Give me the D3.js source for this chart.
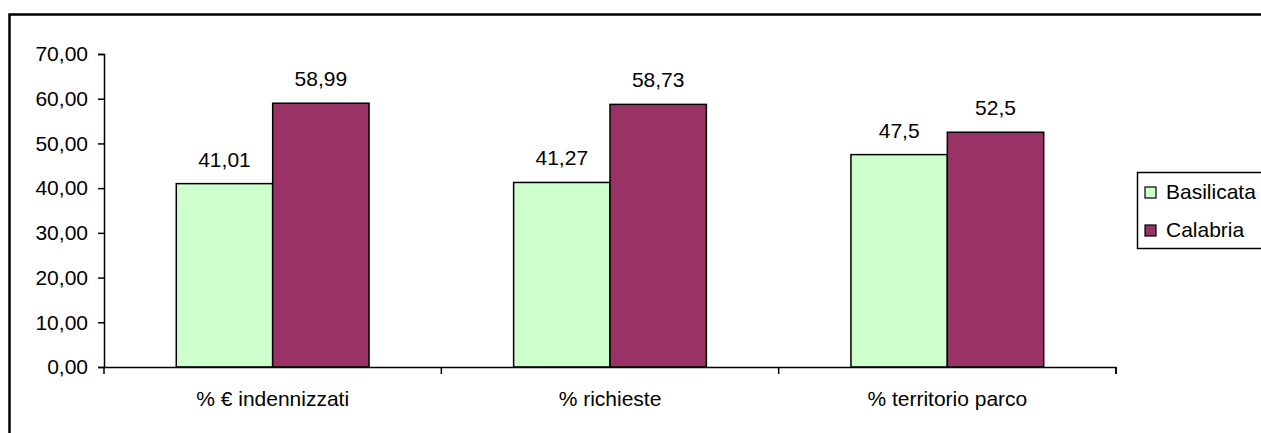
<!DOCTYPE html>
<html>
<head>
<meta charset="utf-8">
<script src="https://cdn.jsdelivr.net/npm/d3@7"></script>
<style>
  body { margin: 0; background: #fff; }
  text { font-family: "Liberation Sans", Arial, sans-serif; fill: #000; }
</style>
</head>
<body>
<div id="painting"></div>
<script>
// chart data
var categories = ["% € indennizzati", "% richieste", "% territorio parco"];
var series_names = ["Basilicata", "Calabria"];
var basilicata = [41.01, 41.27, 47.5];
var calabria = [58.99, 58.73, 52.5];
var value_labels = [["41,01", "41,27", "47,5"], ["58,99", "58,73", "52,5"]];
var y_ticks = [0, 10, 20, 30, 40, 50, 60, 70];
var colours = ["#CCFFCC", "#993366"];

var W = 1261, H = 433;
var fs = "21px";
var margin = {top: 54, left: 104};
var w = 1116 - margin.left;
var h = 367 - margin.top;

var svg = d3.select("#painting")
  .append("svg")
  .attr("width", W)
  .attr("height", H);

// outer frame (runs past the right and bottom edges)
svg.append("path")
  .attr("d", "M9.5," + (H + 5) + " L9.5,14.5 L" + (W + 5) + ",14.5")
  .attr("fill", "none")
  .attr("stroke", "#000")
  .attr("stroke-width", 2.5);

var g = svg.append("g")
  .attr("transform", "translate(" + margin.left + "," + margin.top + ")");

var x0 = d3.scaleBand()
  .domain(categories)
  .range([0, w]);

var x1 = d3.scaleBand()
  .domain(series_names)
  .range([0, x0.bandwidth()])
  .paddingOuter(0.75);

var yScale = d3.scaleLinear()
  .domain([0, 70])
  .range([h, 0]);

var fmt = function(d) { return d3.format(".2f")(d).replace(".", ","); };

var yAxis = d3.axisLeft(yScale)
  .tickValues(y_ticks)
  .tickFormat(fmt)
  .tickSize(6)
  .tickPadding(10);

var ya = g.append("g")
  .attr("class", "axis")
  .call(yAxis);
ya.select(".domain").attr("d", "M-6,0.5H0.5V" + (h + 0.5) + "H-6").attr("stroke-width", 1.5);
ya.selectAll("line").attr("stroke-width", 1.5);
ya.selectAll("text").style("font-size", fs).attr("font-family", null);

// bars
var rows = [basilicata, calabria];
series_names.forEach(function(s, si) {
  var bars = g.append("g");
  bars.selectAll("rect")
    .data(rows[si])
    .enter()
    .append("rect")
    .attr("x", function(d, i) { return x0(categories[i]) + x1(s); })
    .attr("y", function(d) { return yScale(d); })
    .attr("width", x1.bandwidth())
    .attr("height", function(d) { return h - yScale(d); })
    .attr("fill", colours[si])
    .attr("stroke", "#000")
    .attr("stroke-width", 1.5);

  bars.selectAll("text")
    .data(rows[si])
    .enter()
    .append("text")
    .attr("x", function(d, i) { return x0(categories[i]) + x1(s) + x1.bandwidth() / 2; })
    .attr("y", function(d) { return yScale(d) - 17; })
    .attr("text-anchor", "middle")
    .style("font-size", fs)
    .text(function(d, i) { return value_labels[si][i]; });
});

// x axis
var xAxis = d3.axisBottom(x0)
  .tickSize(0)
  .tickPadding(24);
var xa = g.append("g")
  .attr("transform", "translate(0," + h + ")")
  .call(xAxis);
xa.select(".domain").attr("stroke-width", 1.5).attr("d", "M0,0.5H" + w + "V7");
xa.selectAll("text").style("font-size", fs).attr("font-family", null);
xa.selectAll(".sep")
  .data(d3.range(categories.length + 1))
  .enter()
  .append("line")
  .attr("x1", function(d) { return d * x0.step(); })
  .attr("x2", function(d) { return d * x0.step(); })
  .attr("y1", 0)
  .attr("y2", 7)
  .attr("stroke", "#000")
  .attr("stroke-width", 1.5);

// legend
var leg = svg.append("g").attr("transform", "translate(1137,172)");
leg.append("rect")
  .attr("x", 0.5).attr("y", 0.5)
  .attr("width", 140).attr("height", 76)
  .attr("fill", "#fff")
  .attr("stroke", "#000")
  .attr("stroke-width", 1.5);
var items = leg.selectAll(".item")
  .data(series_names)
  .enter()
  .append("g")
  .attr("transform", function(d, i) { return "translate(0," + (20 + i * 38) + ")"; });
items.append("rect")
  .attr("x", 8).attr("y", -5)
  .attr("width", 11).attr("height", 11)
  .attr("fill", function(d, i) { return colours[i]; })
  .attr("stroke", "#000")
  .attr("stroke-width", 1.2);
items.append("text")
  .attr("x", 29)
  .attr("y", 7)
  .style("font-size", fs)
  .text(function(d) { return d; });
</script>
</body>
</html>
